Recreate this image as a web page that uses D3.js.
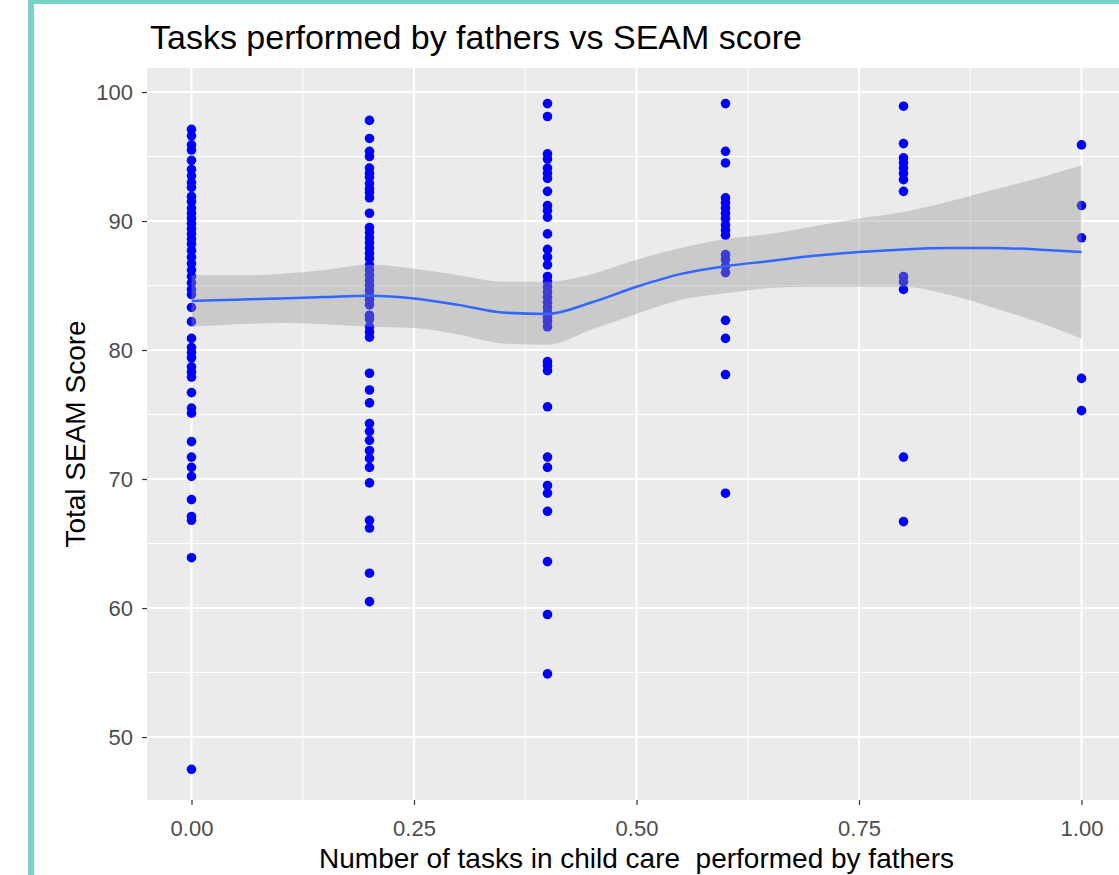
<!DOCTYPE html>
<html>
<head>
<meta charset="utf-8">
<script src="https://cdn.jsdelivr.net/npm/d3@7"></script>
<style>
  html, body { margin: 0; padding: 0; background: #ffffff; }
  svg { display: block; }
  text { font-family: "Liberation Sans", Arial, sans-serif; }
</style>
</head>
<body>
<svg id="chart" width="1119" height="875"></svg>
<script>
// ---- data ----
const title = "Tasks performed by fathers vs SEAM score";
const xTitle = "Number of tasks in child care  performed by fathers";
const yTitle = "Total SEAM Score";
const xTicks = [0, 0.25, 0.5, 0.75, 1.0];
const xTickLabels = ["0.00", "0.25", "0.50", "0.75", "1.00"];
const yTicks = [50, 60, 70, 80, 90, 100];
const yTickLabels = ["50", "60", "70", "80", "90", "100"];

const scores00 = [97.1, 96.6, 95.9, 95.5, 94.7, 94.0, 93.5, 93.0, 92.6, 91.9, 91.5, 91.0, 90.6, 90.2, 89.8, 89.4, 89.0, 88.6, 88.2, 87.7, 87.2, 86.7, 86.2, 85.7, 85.2, 84.7, 84.3, 83.3, 82.2, 80.9, 80.2, 79.8, 79.4, 78.7, 78.3, 77.9, 76.7, 75.5, 75.1, 72.9, 71.7, 70.9, 70.2, 68.4, 67.1, 66.8, 63.9, 47.5];
const scores02 = [97.8, 96.4, 95.4, 95.0, 94.1, 93.7, 93.4, 92.9, 92.5, 92.2, 91.8, 90.6, 89.5, 89.1, 88.7, 88.3, 87.9, 87.5, 87.1, 86.6, 86.2, 85.8, 85.4, 85.0, 84.6, 84.2, 83.9, 83.5, 82.7, 82.4, 81.8, 81.4, 81.0, 78.2, 76.9, 75.9, 74.3, 73.7, 73.0, 72.2, 71.6, 70.9, 69.7, 66.8, 66.2, 62.7, 60.5];
const scores04 = [99.1, 98.1, 95.2, 94.8, 94.1, 93.7, 93.3, 92.3, 91.2, 90.8, 90.3, 89.0, 87.8, 87.2, 86.6, 85.7, 85.3, 84.9, 84.5, 84.1, 83.7, 83.3, 82.9, 82.5, 82.2, 81.8, 79.1, 78.8, 78.4, 75.6, 71.7, 70.9, 69.5, 68.9, 67.5, 63.6, 59.5, 54.9];
const scores06 = [99.1, 95.4, 94.5, 91.8, 91.4, 91.0, 90.6, 90.2, 89.7, 89.3, 88.9, 87.4, 87.0, 86.5, 86.0, 82.3, 80.9, 78.1, 68.9];
const scores08 = [98.9, 96.0, 94.9, 94.5, 94.1, 93.7, 93.2, 92.3, 85.7, 85.3, 84.7, 71.7, 66.7];
const scores10 = [95.9, 91.2, 88.7, 77.8, 75.3];
const taskLevels = [0, 0.2, 0.4, 0.6, 0.8, 1.0];
const scoreGroups = [scores00, scores02, scores04, scores06, scores08, scores10];

// loess smooth
const smoothX     = [0, 0.05, 0.1, 0.15, 0.2, 0.25, 0.3, 0.35, 0.4, 0.45, 0.5, 0.55, 0.6, 0.65, 0.7, 0.75, 0.8, 0.85, 0.9, 0.95, 1.0];
const smoothFit   = [83.8, 83.9, 84.0, 84.1, 84.2, 84.0, 83.5, 82.9, 82.8, 83.7, 84.9, 85.9, 86.5, 86.9, 87.3, 87.6, 87.8, 87.9, 87.9, 87.8, 87.6];
const smoothLower = [81.8, 82.0, 82.1, 82.0, 81.8, 81.7, 81.2, 80.5, 80.4, 81.6, 82.8, 83.9, 84.4, 84.8, 84.9, 84.9, 84.9, 84.3, 83.3, 82.2, 80.9];
const smoothUpper = [85.8, 85.8, 85.9, 86.2, 86.6, 86.3, 85.8, 85.3, 85.3, 85.9, 87.0, 87.9, 88.6, 89.0, 89.6, 90.2, 90.7, 91.5, 92.4, 93.3, 94.3];

// ---- layout ----
const svg = d3.select("#chart");
const panel = { left: 147, right: 1126, top: 68, bottom: 800 };

const x = d3.scaleLinear().domain([-0.05, 1.05]).range([panel.left, panel.right]);
const y = d3.scaleLinear().domain([45.12, 101.86]).range([panel.bottom, panel.top]);

// teal frame
svg.append("rect").attr("x", 28).attr("y", 0).attr("width", 6).attr("height", 875).attr("fill", "#79D2C6");
svg.append("rect").attr("x", 28).attr("y", 0).attr("width", 1091).attr("height", 4).attr("fill", "#79D2C6");

svg.append("clipPath").attr("id", "pclip")
  .append("rect").attr("x", panel.left).attr("y", panel.top)
  .attr("width", panel.right - panel.left).attr("height", panel.bottom - panel.top);

const g = svg.append("g").attr("clip-path", "url(#pclip)");
g.append("rect").attr("x", panel.left).attr("y", panel.top)
  .attr("width", panel.right - panel.left).attr("height", panel.bottom - panel.top)
  .attr("fill", "#EBEBEB");

// minor grid
const xMinor = [0.125, 0.375, 0.625, 0.875];
const yMinor = [55, 65, 75, 85, 95];
g.selectAll(".xminor").data(xMinor).enter().append("line")
  .attr("x1", d => x(d)).attr("x2", d => x(d)).attr("y1", panel.top).attr("y2", panel.bottom)
  .attr("stroke", "#ffffff").attr("stroke-width", 1);
g.selectAll(".yminor").data(yMinor).enter().append("line")
  .attr("y1", d => y(d)).attr("y2", d => y(d)).attr("x1", panel.left).attr("x2", panel.right)
  .attr("stroke", "#ffffff").attr("stroke-width", 1);
// major grid
g.selectAll(".xmajor").data(xTicks).enter().append("line")
  .attr("x1", d => x(d)).attr("x2", d => x(d)).attr("y1", panel.top).attr("y2", panel.bottom)
  .attr("stroke", "#ffffff").attr("stroke-width", 2);
g.selectAll(".ymajor").data(yTicks).enter().append("line")
  .attr("y1", d => y(d)).attr("y2", d => y(d)).attr("x1", panel.left).attr("x2", panel.right)
  .attr("stroke", "#ffffff").attr("stroke-width", 2);

// points
const pts = [];
taskLevels.forEach((t, i) => scoreGroups[i].forEach(s => pts.push({ t, s })));
g.selectAll(".pt").data(pts).enter().append("circle")
  .attr("cx", d => x(d.t)).attr("cy", d => y(d.s)).attr("r", 4.8)
  .attr("fill", "#0000FF");

// ribbon
const smooth = smoothX.map((v, i) => ({ x: v, fit: smoothFit[i], lo: smoothLower[i], hi: smoothUpper[i] }));
g.append("path").datum(smooth)
  .attr("d", d3.area().x(d => x(d.x)).y0(d => y(d.lo)).y1(d => y(d.hi)).curve(d3.curveMonotoneX))
  .attr("fill", "#999999").attr("fill-opacity", 0.4);
g.append("path").datum(smooth)
  .attr("d", d3.line().x(d => x(d.x)).y(d => y(d.fit)).curve(d3.curveMonotoneX))
  .attr("fill", "none").attr("stroke", "#3366FF").attr("stroke-width", 2.5);

// axes
const xAxis = d3.axisBottom(x).tickValues(xTicks).tickFormat((d, i) => xTickLabels[i]).tickSize(5).tickPadding(15);
const xg = svg.append("g").attr("transform", `translate(0,${panel.bottom})`).call(xAxis);
xg.select(".domain").remove();
xg.selectAll("line").attr("stroke", "#333333").attr("stroke-width", 1.2);
xg.selectAll("text").attr("fill", "#4D4D4D").style("font-size", "22px").style("font-family", "Liberation Sans, Arial, sans-serif");

const yAxis = d3.axisLeft(y).tickValues(yTicks).tickFormat((d, i) => yTickLabels[i]).tickSize(5).tickPadding(9);
const yg = svg.append("g").attr("transform", `translate(${panel.left},0)`).call(yAxis);
yg.select(".domain").remove();
yg.selectAll("line").attr("stroke", "#333333").attr("stroke-width", 1.2);
yg.selectAll("text").attr("fill", "#4D4D4D").style("font-size", "22px").style("font-family", "Liberation Sans, Arial, sans-serif");

// titles
svg.append("text").attr("x", 150).attr("y", 49).text(title)
  .attr("fill", "#000").style("font-size", "34px");
svg.append("text").attr("x", (panel.left + panel.right) / 2).attr("y", 868).attr("text-anchor", "middle")
  .style("white-space", "pre").attr("xml:space", "preserve")
  .text(xTitle).attr("fill", "#000").style("font-size", "28px");
svg.append("text").attr("transform", `translate(85,${(panel.top + panel.bottom) / 2}) rotate(-90)`)
  .attr("text-anchor", "middle").text(yTitle).attr("fill", "#000").style("font-size", "28px");
</script>
</body>
</html>
